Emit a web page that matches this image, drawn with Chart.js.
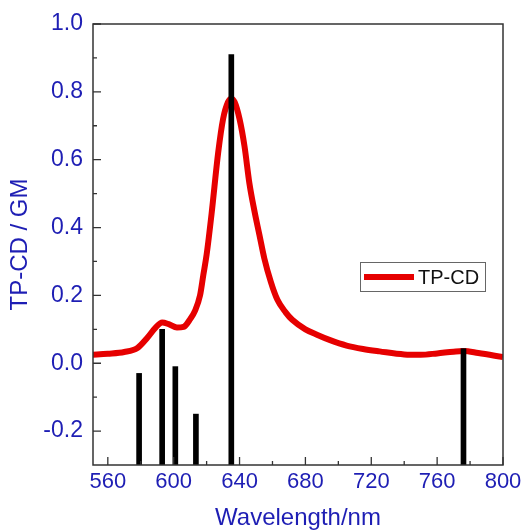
<!DOCTYPE html>
<html>
<head>
<meta charset="utf-8">
<script src="https://cdn.jsdelivr.net/npm/chart.js@4/dist/chart.umd.min.js"></script>
<style>
  html, body { margin: 0; padding: 0; background: #fff; }
  #wrap { width: 526px; height: 530px; }
</style>
</head>
<body>
<div id="wrap"><canvas id="chart" width="526" height="530"></canvas></div>
<script>
// TP-CD spectrum (red curve)
var curveX = [550, 560, 570, 578, 584, 589, 593, 597, 602, 606, 610, 613, 616, 618, 620, 623, 627, 630, 633, 635, 637, 640, 643, 646, 649, 652, 655, 659, 663, 668, 672, 680, 687, 695, 705, 715, 725, 740, 750, 760, 770, 776, 785, 800];
var curveY = [0.025, 0.028, 0.033, 0.045, 0.075, 0.105, 0.12, 0.115, 0.105, 0.107, 0.13, 0.155, 0.2, 0.26, 0.32, 0.44, 0.62, 0.72, 0.77, 0.78, 0.77, 0.72, 0.64, 0.53, 0.45, 0.38, 0.31, 0.24, 0.187, 0.15, 0.128, 0.10, 0.084, 0.068, 0.052, 0.042, 0.035, 0.026, 0.025, 0.029, 0.034, 0.036, 0.03, 0.018];

// computed transitions (black sticks)
var stickX = [579, 593, 601, 613.5, 635, 776];
var stickY = [-0.03, 0.10, -0.01, -0.15, 0.91, 0.043];

var xTicks = [560, 600, 640, 680, 720, 760, 800];
var xMinor = [580, 620, 660, 700, 740, 780];
var yTicks = [-0.2, 0.0, 0.2, 0.4, 0.6, 0.8, 1.0];
var yMinor = [-0.1, 0.1, 0.3, 0.5, 0.7, 0.9];

var xMin = 551, xMax = 800, yMin = -0.3, yMax = 1.0;
var blue = "#1e1eb4";

var curveData = [];
for (var i = 0; i < curveX.length; i++) curveData.push({ x: curveX[i], y: curveY[i] });
var stickData = [];
for (var j = 0; j < stickX.length; j++) stickData.push({ x: stickX[j], y: [yMin, stickY[j]] });

// frame, inward ticks and legend box
var framePlugin = {
  id: "frame",
  afterDatasetsDraw: function (chart) {
    var ctx = chart.ctx;
    var a = chart.chartArea;
    var xs = chart.scales.x, ys = chart.scales.y;
    ctx.save();
    ctx.strokeStyle = "#333";
    ctx.lineWidth = 1.5;
    ctx.strokeRect(a.left, a.top, a.right - a.left, a.bottom - a.top);
    ctx.lineWidth = 1.3;
    ctx.beginPath();
    xTicks.forEach(function (v) {
      var p = xs.getPixelForValue(v);
      ctx.moveTo(p, a.bottom); ctx.lineTo(p, a.bottom - 8);
    });
    xMinor.forEach(function (v) {
      var p = xs.getPixelForValue(v);
      ctx.moveTo(p, a.bottom); ctx.lineTo(p, a.bottom - 4);
    });
    yTicks.forEach(function (v) {
      var p = ys.getPixelForValue(v);
      ctx.moveTo(a.left, p); ctx.lineTo(a.left + 8, p);
    });
    yMinor.forEach(function (v) {
      var p = ys.getPixelForValue(v);
      ctx.moveTo(a.left, p); ctx.lineTo(a.left + 4, p);
    });
    ctx.stroke();

    // legend
    var ds = chart.data.datasets[1];
    var lx = a.left + 267, ly = a.top + 238;
    ctx.strokeStyle = "#666";
    ctx.lineWidth = 1;
    ctx.strokeRect(lx + 0.5, ly + 0.5, 125, 29);
    ctx.strokeStyle = ds.borderColor;
    ctx.lineWidth = 6;
    ctx.beginPath();
    ctx.moveTo(lx + 4, ly + 15); ctx.lineTo(lx + 54, ly + 15);
    ctx.stroke();
    ctx.fillStyle = "#111";
    ctx.font = "20px 'Liberation Sans', Arial, sans-serif";
    ctx.textBaseline = "middle";
    ctx.fillText(ds.label, lx + 58, ly + 16);
    ctx.restore();
  }
};

new Chart(document.getElementById("chart").getContext("2d"), {
  data: {
    datasets: [
      {
        type: "bar",
        label: "sticks",
        data: stickData,
        backgroundColor: "#000",
        borderWidth: 0,
        barThickness: 5,
        order: 0
      },
      {
        type: "line",
        label: "TP-CD",
        data: curveData,
        borderColor: "#e60000",
        borderWidth: 6,
        pointRadius: 0,
        tension: 0.4,
        cubicInterpolationMode: "monotone",
        fill: false,
        order: 1
      }
    ]
  },
  options: {
    responsive: false,
    animation: false,
    layout: { padding: { left: 0, top: 24, right: 23, bottom: 0 } },
    plugins: {
      legend: { display: false },
      tooltip: { enabled: false }
    },
    scales: {
      x: {
        type: "linear",
        min: xMin,
        max: xMax,
        offset: false,
        grid: { display: false, drawTicks: false },
        border: { display: false },
        afterBuildTicks: function (s) { s.ticks = xTicks.map(function (v) { return { value: v }; }); },
        afterFit: function (s) { s.height = 65; },
        ticks: {
          color: blue,
          padding: 4,
          maxRotation: 0,
          font: { family: "'Liberation Sans', Arial, sans-serif", size: 22 }
        },
        title: {
          display: true,
          text: "Wavelength/nm",
          color: blue,
          padding: { top: 0, bottom: 0 },
          font: { family: "'Liberation Sans', Arial, sans-serif", size: 24, lineHeight: 1 }
        }
      },
      y: {
        type: "linear",
        min: yMin,
        max: yMax,
        grid: { display: false, drawTicks: false },
        border: { display: false },
        afterBuildTicks: function (s) { s.ticks = yTicks.map(function (v) { return { value: v }; }); },
        afterFit: function (s) { s.width = 93; },
        ticks: {
          color: blue,
          padding: 10,
          font: { family: "'Liberation Sans', Arial, sans-serif", size: 23 },
          callback: function (v) { return v.toFixed(1); }
        },
        title: {
          display: true,
          text: "TP-CD / GM",
          color: blue,
          padding: { top: 8, bottom: 0 },
          font: { family: "'Liberation Sans', Arial, sans-serif", size: 24, lineHeight: 1 }
        }
      }
    }
  },
  plugins: [framePlugin]
});
</script>
</body>
</html>
